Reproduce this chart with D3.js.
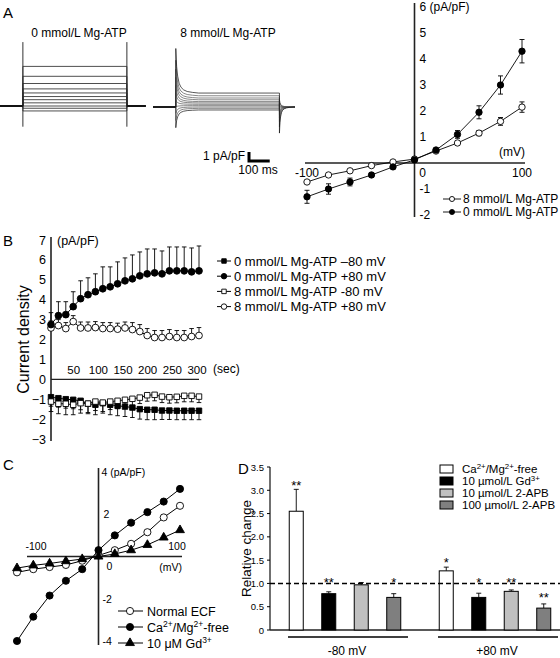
<!DOCTYPE html>
<html><head><meta charset="utf-8">
<script src="https://cdn.jsdelivr.net/npm/d3@7"></script>
<style>body{margin:0;background:#fff}svg{display:block}text{font-family:"Liberation Sans",Arial,Helvetica,sans-serif;fill:#000}</style>
</head><body><svg id="c" width="560" height="658"></svg>
<script>
// ---------------- DATA ----------------
// Panel A: raw traces (steady levels, pA/pF) for steps -100..+100 mV
const traceVolt = [-100,-80,-60,-40,-20,0,20,40,60,80,100];
const trace0Levels = [-0.55,-0.25,0,0.35,0.7,1.05,1.45,1.9,2.5,3.3,4.4];
const trace0Spike = [-2.3, 7.1];
const trace8Levels = [-0.33,-0.15,0.0,0.15,0.3,0.45,0.6,0.8,1.0,1.25,1.55];
const trace8OnPeaks = [-2.3,-1.5,-0.7,0,0.8,1.6,2.4,3.3,4.2,5.2,6.5];
const trace8OffPeaks = [0.8,0.55,0.3,0.1,-0.2,-0.5,-0.8,-1.2,-1.6,-2.2,-2.9];
const transientT = [0,4,9,16,25,38,55,80,110];
const transientA = [1,0.6,0.38,0.22,0.13,0.07,0.035,0.015,0];
// Panel A: I-V
const ivVolt = [-100,-80,-60,-40,-20,0,20,40,60,80,100];
const ivMg0 = [-1.3,-1.0,-0.73,-0.46,-0.15,0.12,0.5,1.1,1.95,3.0,4.3];
const ivMg0Err = [0.25,0.2,0.15,0.08,0.05,0.04,0.05,0.15,0.25,0.35,0.45];
const ivMg8 = [-0.73,-0.46,-0.3,-0.1,0.04,0.15,0.46,0.77,1.15,1.6,2.15];
const ivMg8Err = [0.05,0.04,0.03,0.03,0.02,0.02,0.04,0.06,0.1,0.15,0.2];
const ivYTicks = [6,5,4,3,2,1,-1,-2];
// Panel B: time course
const timeSec = [0,15,30,45,60,75,90,105,120,135,150,165,180,195,210,225,240,255,270,285,300];
const b0m80 = [-0.9,-0.95,-1.0,-1.03,-1.08,-1.23,-1.28,-1.2,-1.28,-1.33,-1.37,-1.42,-1.5,-1.53,-1.53,-1.57,-1.57,-1.58,-1.58,-1.58,-1.58];
const b0m80Err = [0.45,0.45,0.45,0.45,0.45,0.5,0.5,0.5,0.5,0.5,0.5,0.5,0.5,0.5,0.5,0.45,0.45,0.45,0.45,0.45,0.45];
const b0p80 = [2.75,3.2,3.25,3.65,4.05,4.25,4.4,4.55,4.65,4.8,4.95,5.05,5.2,5.3,5.35,5.3,5.45,5.45,5.45,5.4,5.45];
const b0p80Err = [0.6,0.7,0.65,0.75,0.9,0.85,0.9,1.1,1.0,1.1,1.15,1.2,1.2,1.25,1.2,1.15,1.2,1.2,1.2,1.2,1.25];
const b8m80 = [-1.12,-1.23,-1.23,-1.28,-1.2,-1.22,-1.12,-1.17,-1.12,-1.08,-1.03,-0.98,-0.92,-0.8,-0.78,-0.87,-0.9,-0.88,-0.83,-0.83,-0.87];
const b8m80Err = [0.5,0.5,0.55,0.5,0.5,0.45,0.45,0.45,0.4,0.4,0.35,0.35,0.3,0.3,0.3,0.3,0.3,0.3,0.3,0.3,0.3];
const b8p80 = [2.58,2.7,2.55,2.9,2.58,2.58,2.6,2.55,2.55,2.52,2.58,2.5,2.4,2.2,2.1,2.1,2.15,2.1,2.1,2.15,2.2];
const b8p80Err = [0.35,0.3,0.3,0.3,0.3,0.3,0.3,0.3,0.3,0.3,0.3,0.35,0.35,0.35,0.35,0.35,0.35,0.35,0.35,0.4,0.4];
const bYTicks = [7,6,5,4,3,2,1,0,-1,-2,-3];
const bXTicks = [50,100,150,200,250,300];
const bLegend = ["0 mmol/L Mg-ATP \u201380 mV","0 mmol/L Mg-ATP +80 mV","8 mmol/L Mg-ATP -80 mV","8 mmol/L Mg-ATP +80 mV"];
// Panel C: I-V in different solutions
const cVolt = [-100,-80,-60,-40,-20,0,20,40,60,80,100];
const cNormal = [-0.75,-0.6,-0.5,-0.4,-0.2,0.05,0.3,0.6,1.15,1.85,2.4];
const cCaFree = [-4.0,-2.85,-1.85,-1.15,-0.6,0.3,1.0,1.6,2.1,2.6,3.2];
const cGd = [-0.55,-0.42,-0.33,-0.22,-0.12,0.0,0.12,0.3,0.55,0.9,1.25];
// Panel D: relative change
const dGroups = ["-80 mV","+80 mV"];
const dSeries = ["Ca2+/Mg2+-free","10 \u00b5mol/L Gd3+","10 \u00b5mol/L 2-APB","100 \u00b5mol/L 2-APB"];
const dMinus80 = [2.55,0.78,0.97,0.70];
const dMinus80Err = [0.47,0.04,0.05,0.08];
const dMinus80Sig = ["**","**","","*"];
const dMinus80SigAt = [3.15,1.07,0,1.07];
const dPlus80 = [1.27,0.70,0.83,0.47];
const dPlus80Err = [0.08,0.09,0.03,0.09];
const dPlus80Sig = ["*","*","**","**"];
const dPlus80SigAt = [1.5,1.07,1.07,0.75];
const dYTicks = [0,0.5,1.0,1.5,2.0,2.5,3.0,3.5];
const dFills = ["#ffffff","#000000","#c0c0c0","#7f7f7f"];

// ---------------- HELPERS ----------------
const svg = d3.select("#c");
svg.append("rect").attr("width",560).attr("height",658).attr("fill","#fff");
function T(g,x,y,s,size,anchor,extra){
  const t=g.append("text").attr("x",x).attr("y",y).attr("font-size",size).attr("text-anchor",anchor||"start").text(s);
  if(extra) extra(t);
  return t;
}
function line(g,x1,y1,x2,y2,w,col){
  return g.append("line").attr("x1",x1).attr("y1",y1).attr("x2",x2).attr("y2",y2).attr("stroke",col||"#000").attr("stroke-width",w||1);
}
function mark(g,type,filled,x,y,size){
  const sym = {circle:d3.symbolCircle,square:d3.symbolSquare,triangle:d3.symbolTriangle}[type];
  g.append("path").attr("d",d3.symbol().type(sym).size(size)()).attr("transform",`translate(${x},${y})`)
   .attr("fill",filled?"#000":"#fff").attr("stroke","#000").attr("stroke-width",0.9);
}
function err(g,x,y1,y2,cap){
  line(g,x,y1,x,y2,0.9); line(g,x-cap,y2,x+cap,y2,0.9);
}
function supText(g,x,y,size,parts,anchor){
  const t=g.append("text").attr("x",x).attr("y",y).attr("font-size",size).attr("text-anchor",anchor||"start");
  let raised=false;
  parts.forEach(p=>{
    const ts=t.append("tspan").text(p.t);
    if(p.sup){ ts.attr("dy",raised?0:-size*0.38).attr("font-size",size*0.68); raised=true; }
    else { if(raised) ts.attr("dy",size*0.38); raised=false; }
  });
  return t;
}
function parseSup(s){
  const parts=[]; const re=/(\d\+)/g; let last=0,m;
  while((m=re.exec(s))){ if(m.index>last) parts.push({t:s.slice(last,m.index)}); parts.push({t:m[1],sup:true}); last=m.index+m[1].length; }
  if(last<s.length) parts.push({t:s.slice(last)});
  return parts;
}

// ---------------- PANEL A: traces ----------------
const gA = svg.append("g");
T(gA,3,18,"A",15);
T(gA,79,37,"0 mmol/L Mg-ATP",12,"middle");
T(gA,228,37,"8 mmol/L Mg-ATP",12,"middle");
const tx0 = d3.scaleLinear([0,700],[0,145.6]);
const ty0 = d3.scaleLinear([0,1],[106,97]);
const stepOn=110, stepOff=610;
const lg = d3.line().x(d=>d[0]).y(d=>d[1]);
trace0Levels.forEach((lv,i)=>{
  const pts=[[0,0],[stepOn,0],[stepOn,lv],[stepOff,lv],[stepOff,0],[700,0]].map(p=>[tx0(p[0]),ty0(p[1])]);
  gA.append("path").attr("d",lg(pts)).attr("fill","none").attr("stroke","#222").attr("stroke-width",0.8);
});
[stepOn,stepOff].forEach(t=>line(gA,tx0(t),ty0(trace0Spike[1]),tx0(t),ty0(trace0Spike[0]),1,"#333"));
line(gA,tx0(0),ty0(0),tx0(stepOn),ty0(0),1.6,"#111");
line(gA,tx0(stepOff),ty0(0),tx0(700),ty0(0),1.6,"#111");

const tx8 = d3.scaleLinear([0,685],[153,295]);
const ty8 = d3.scaleLinear([0,1],[107,98]);
trace8Levels.forEach((lv,i)=>{
  const pts=[[0,0],[stepOn,0],[stepOn,trace8OnPeaks[i]]];
  transientT.forEach((t,k)=>{ if(k>0) pts.push([stepOn+t, lv+(trace8OnPeaks[i]-lv)*transientA[k]]); });
  pts.push([stepOff,lv],[stepOff,trace8OffPeaks[i]]);
  transientT.forEach((t,k)=>{ if(k>0) pts.push([stepOff+t*0.6, trace8OffPeaks[i]*transientA[k]]); });
  pts.push([685,0]);
  gA.append("path").attr("d",lg(pts.map(p=>[tx8(p[0]),ty8(p[1])]))).attr("fill","none")
    .attr("stroke", (i===0||i===trace8Levels.length-1)?"#111":"#555").attr("stroke-width",0.7);
});
line(gA,tx8(0),ty8(0),tx8(stepOn),ty8(0),1.4,"#111");
// scale bar: 1 pA/pF, 100 ms
const sbx = 249, sby = ty8(0)+54;
gA.append("path").attr("d",`M${sbx},${sby-(ty8(0)-ty8(1))} L${sbx},${sby} L${sbx+(tx8(100)-tx8(0))},${sby}`)
  .attr("fill","none").attr("stroke","#000").attr("stroke-width",3);
T(gA,245,sby-1,"1 pA/pF",12,"end");
T(gA,258,sby+13,"100 ms",12,"middle");

// ---------------- PANEL A: I-V ----------------
const gI = svg.append("g");
const ivx = d3.scaleLinear([-100,100],[307,522]);
const ivy = d3.scaleLinear([-2,6],[215,7]);
line(gI,305,ivy(0),525,ivy(0),1.6,"#222");
line(gI,ivx(0),ivy(6)-4,ivx(0),ivy(-2)+2,1.6,"#222");
ivYTicks.forEach(v=>T(gI,ivx(0)+5,ivy(v)+4,v===6?"6  (pA/pF)":String(v),12));
T(gI,ivx(-100),ivy(0)+14,"-100",12,"middle");
T(gI,ivx(0)+8,ivy(0)+14,"0",12,"middle");
T(gI,ivx(100),ivy(0)+14,"100",12,"middle");
T(gI,525,ivy(0)-7,"(mV)",12,"end");
const ivLine = d3.line().x((d,i)=>ivx(ivVolt[i])).y(d=>ivy(d));
[[ivMg8,ivMg8Err],[ivMg0,ivMg0Err]].forEach(([vals,errs])=>{
  vals.forEach((v,i)=>{
    const x=ivx(ivVolt[i]);
    if(errs[i]>0.03){ line(gI,x,ivy(v-errs[i]),x,ivy(v+errs[i]),0.9); line(gI,x-2.5,ivy(v-errs[i]),x+2.5,ivy(v-errs[i]),0.9); line(gI,x-2.5,ivy(v+errs[i]),x+2.5,ivy(v+errs[i]),0.9); }
  });
  gI.append("path").attr("d",ivLine(vals)).attr("fill","none").attr("stroke","#000").attr("stroke-width",0.9);
});
[[ivMg8,false],[ivMg0,true]].forEach(([vals,filled])=>vals.forEach((v,i)=>mark(gI,"circle",filled,ivx(ivVolt[i]),ivy(v),32)));
[["8 mmol/L Mg-ATP",false],["0 mmol/L Mg-ATP",true]].forEach(([s,f],i)=>{
  const y=199+i*13;
  line(gI,443,y,461,y,0.9); mark(gI,"circle",f,452,y,20);
  T(gI,463,y+4,s,12);
});

// ---------------- PANEL B ----------------
const gB = svg.append("g");
const bx = d3.scaleLinear([0,300],[51,199]);
const by = d3.scaleLinear([-3,7],[439,240]);
T(gB,3,246,"B",15);
line(gB,bx(0),by(7)-3,bx(0),by(-3)+2,1.6,"#222");
line(gB,bx(0),by(0),bx(300),by(0),1.3,"#222");
bYTicks.forEach(v=>T(gB,46,by(v)+4.5,v<0?"\u2212"+Math.abs(v):String(v),12.5,"end"));
bXTicks.forEach(v=>T(gB,bx(v)-2,by(0)-5,String(v),11.5,"middle"));
T(gB,213,by(0)-6,"(sec)",12);
T(gB,57,245,"(pA/pF)",12.5);
T(gB,0,0,"Current density",16,"middle",t=>t.attr("transform",`translate(29,${by(2)}) rotate(-90)`));
const bSeries = [
  {v:b0p80,e:b0p80Err,dir:1,shape:"circle",f:true},
  {v:b8p80,e:b8p80Err,dir:1,shape:"circle",f:false},
  {v:b0m80,e:b0m80Err,dir:-1,shape:"square",f:true},
  {v:b8m80,e:b8m80Err,dir:-1,shape:"square",f:false}
];
const bLine = d3.line().x((d,i)=>bx(timeSec[i])).y(d=>by(d));
bSeries.forEach(s=>{
  s.v.forEach((v,i)=>err(gB,bx(timeSec[i]),by(v),by(v+s.dir*s.e[i]),2.3));
});
bSeries.forEach(s=>gB.append("path").attr("d",bLine(s.v)).attr("fill","none").attr("stroke","#000").attr("stroke-width",1));
[bSeries[2],bSeries[3],bSeries[1],bSeries[0]].forEach(s=>s.v.forEach((v,i)=>mark(gB,s.shape,s.f,bx(timeSec[i]),by(v),s.shape==="circle"?36:30)));
const bLegSpec=[["square",true],["circle",true],["square",false],["circle",false]];
bLegend.forEach((s,i)=>{
  const y=261+i*15.2;
  line(gB,217,y,231,y,1); mark(gB,bLegSpec[i][0],bLegSpec[i][1],224,y,bLegSpec[i][0]==="circle"?24:20);
  T(gB,234,y+4.5,s,13);
});

// ---------------- PANEL C ----------------
const gC = svg.append("g");
const cx = d3.scaleLinear([-100,100],[17,180]);
const cy = d3.scaleLinear([-4,4],[641,472]);
T(gC,3,470,"C",15);
line(gC,27,cy(0),182,cy(0),1.6,"#222");
line(gC,cx(0),cy(4)-4,cx(0),cy(-4)+4,1.6,"#222");
T(gC,cx(0)+3,cy(4)+4,"4 (pA/pF)",10.5);
T(gC,cx(0)+5,cy(2)+4,"2",10.5);
T(gC,cx(0)+4,cy(-2)+4,"-2",10.5);
T(gC,cx(0)+4,cy(-4)+4,"-4",10.5);
T(gC,36,cy(0)-7,"-100",10.5,"middle");
T(gC,177,cy(0)-7,"100",10.5,"middle");
T(gC,cx(0)+11,cy(0)+13,"0",10.5,"middle");
T(gC,182,cy(0)+14,"(mV)",10.5,"end");
const cLine = d3.line().x((d,i)=>cx(cVolt[i])).y(d=>cy(d));
const cSer=[{v:cNormal,shape:"circle",f:false,name:"Normal ECF"},{v:cCaFree,shape:"circle",f:true,name:"Ca2+/Mg2+-free"},{v:cGd,shape:"triangle",f:true,name:"10 \u03bcM Gd3+"}];
cSer.forEach(s=>gC.append("path").attr("d",cLine(s.v)).attr("fill","none").attr("stroke","#000").attr("stroke-width",1));
cSer.forEach(s=>s.v.forEach((v,i)=>mark(gC,s.shape,s.f,cx(cVolt[i]),cy(v),s.shape==="circle"?40:34)));
cSer.forEach((s,i)=>{
  const y=611+i*16;
  line(gC,118,y,143,y,1); mark(gC,s.shape,s.f,130,y,s.shape==="circle"?40:34);
  supText(gC,147,y+4.5,12.5,parseSup(s.name));
});

// ---------------- PANEL D ----------------
const gD = svg.append("g");
const dxg = d3.scaleBand(dGroups,[280,560]).paddingInner(20/150);
const dxs = d3.scaleBand(dSeries,[0,dxg.bandwidth()]).paddingInner(0.569).paddingOuter(0.2846);
const dy = d3.scaleLinear([0,3.5],[630,467]);
T(gD,238,474,"D",15);
line(gD,270,dy(3.5),270,dy(0),1.3,"#222");
line(gD,270,dy(0),560,dy(0),1.3,"#222");
dYTicks.forEach(v=>{ line(gD,267,dy(v),270,dy(v),1); T(gD,264,dy(v)+3.5,v===0?"0":v.toFixed(1),9.5,"end"); });
T(gD,0,0,"Relative change",13.5,"middle",t=>t.attr("transform",`translate(251,${dy(1.75)}) rotate(-90)`));
const dData=[[dMinus80,dMinus80Err,dMinus80Sig,dMinus80SigAt],[dPlus80,dPlus80Err,dPlus80Sig,dPlus80SigAt]];
dGroups.forEach((g,gi)=>{
  const [vals,errs,sig,sigAt]=dData[gi];
  dSeries.forEach((s,si)=>{
    const x=dxg(g)+dxs(s), w=dxs.bandwidth(), xc=x+w/2;
    err(gD,xc,dy(vals[si]),dy(vals[si]+errs[si]),2.5);
    gD.append("rect").attr("x",x).attr("y",dy(vals[si])).attr("width",w).attr("height",dy(0)-dy(vals[si]))
      .attr("fill",dFills[si]).attr("stroke","#000").attr("stroke-width",1);
    if(sig[si]) T(gD,xc,dy(sigAt[si])+7,sig[si],13,"middle");
  });
  line(gD,dxg(g)+8,637,dxg(g)+dxg.bandwidth()-2,637,1.3);
  T(gD,dxg(g)+dxg.bandwidth()/2+2,655,g,12,"middle");
});
line(gD,270,dy(1),560,dy(1),1.5).attr("stroke-dasharray","5,3");
dSeries.forEach((s,i)=>{
  const y=469+i*12;
  gD.append("rect").attr("x",440).attr("y",y-4).attr("width",13).attr("height",8).attr("fill",dFills[i]).attr("stroke","#000").attr("stroke-width",1);
  supText(gD,462,y+4,11.5,parseSup(s));
});
</script></body></html>
